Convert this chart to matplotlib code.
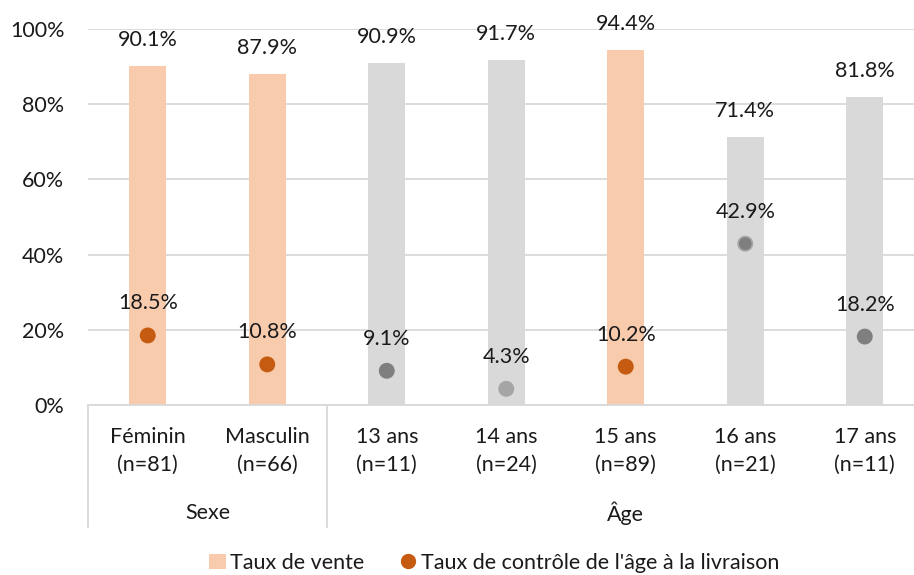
import matplotlib.pyplot as plt
from matplotlib.patches import Patch
from matplotlib.lines import Line2D
import matplotlib.transforms as mtransforms

plt.rcParams['font.family'] = ['Lato', 'DejaVu Sans']

categories = ['Féminin\n(n=81)', 'Masculin\n(n=66)', '13 ans\n(n=11)', '14 ans\n(n=24)',
              '15 ans\n(n=89)', '16 ans\n(n=21)', '17 ans\n(n=11)']
taux_vente = [90.1, 87.9, 90.9, 91.7, 94.4, 71.4, 81.8]
taux_controle = [18.5, 10.8, 9.1, 4.3, 10.2, 42.9, 18.2]
bar_colors = ['#F8CBAD', '#F8CBAD', '#D9D9D9', '#D9D9D9', '#F8CBAD', '#D9D9D9', '#D9D9D9']
dot_colors = ['#C55A11', '#C55A11', '#7F7F7F', '#A5A5A5', '#C55A11', '#7F7F7F', '#7F7F7F']
dot_edges = ['#C55A11', '#C55A11', '#7F7F7F', '#A5A5A5', '#C55A11', '#A5A5A5', '#7F7F7F']
groups = [('Sexe', 0, 1), ('Âge', 2, 6)]

W, H = 914, 575
fig = plt.figure(figsize=(W / 100, H / 100), dpi=100)
ax = fig.add_axes([88 / W, (H - 405) / H, (W - 88) / W, 376 / H])

x = list(range(len(categories)))
ax.bar(x, taux_vente, width=0.31, color=bar_colors, zorder=2)
ax.scatter(x, taux_controle, s=105, c=dot_colors, edgecolors=dot_edges, linewidths=1.2, zorder=3)

fs = 15.5
for xi, v in zip(x, taux_vente):
    ax.annotate(f'{v:.1f}%', (xi, v), xytext=(0, 26), textcoords='offset pixels',
                ha='center', va='center', fontsize=fs, color='#1a1a1a')
for xi, v in zip(x, taux_controle):
    ax.annotate(f'{v:.1f}%', (xi, v), xytext=(0, 32), textcoords='offset pixels',
                ha='center', va='center', fontsize=fs, color='#1a1a1a')

ax.set_ylim(0, 100)
ax.set_xlim(-0.5, -0.5 + (W - 88) / 119.5)
ax.set_yticks([0, 20, 40, 60, 80, 100])
ax.set_yticklabels([f'{t}%' for t in [0, 20, 40, 60, 80, 100]])
ax.yaxis.grid(True, color='#D9D9D9', linewidth=1.3, zorder=0)
ax.set_axisbelow(True)
ax.set_xticks(x)
ax.set_xticklabels(categories, linespacing=1.45)
ax.tick_params(axis='x', length=0, pad=16, labelsize=fs, colors='#1a1a1a')
ax.tick_params(axis='y', length=0, pad=17, labelsize=fs, colors='#1a1a1a')
for s in ['top', 'right', 'left']:
    ax.spines[s].set_visible(False)
ax.spines['bottom'].set_color('#D9D9D9')
ax.spines['bottom'].set_linewidth(1.3)

# group separators and labels below the axis
trans = mtransforms.blended_transform_factory(ax.transData, ax.transAxes)
ybot = -(527 - 405) / 376
for name, i0, i1 in groups:
    ax.plot([i0 - 0.5, i0 - 0.5], [0, ybot], transform=trans, color='#D9D9D9',
            linewidth=1.3, clip_on=False)
ax.plot([6.5, 6.5], [0, ybot], transform=trans, color='#D9D9D9', linewidth=1.3, clip_on=False)
for name, i0, i1 in groups:
    ax.text((i0 + i1) / 2, -(513 - 405) / 376, name, transform=trans, ha='center',
            va='center', fontsize=fs, color='#1a1a1a')

handles = [Patch(facecolor='#F8CBAD', edgecolor='none'),
           Line2D([], [], marker='o', linestyle='none', markersize=10,
                  markerfacecolor='#C55A11', markeredgecolor='#C55A11')]
fig.legend(handles, ['Taux de vente', "Taux de contrôle de l'âge à la livraison"],
           loc='center', bbox_to_anchor=(494 / W, 1 - 563 / H), ncol=2, frameon=False,
           fontsize=fs, handlelength=0.8, handletextpad=0.2, columnspacing=1.6,
           labelcolor='#1a1a1a')

fig.savefig('out.png', dpi=100)
